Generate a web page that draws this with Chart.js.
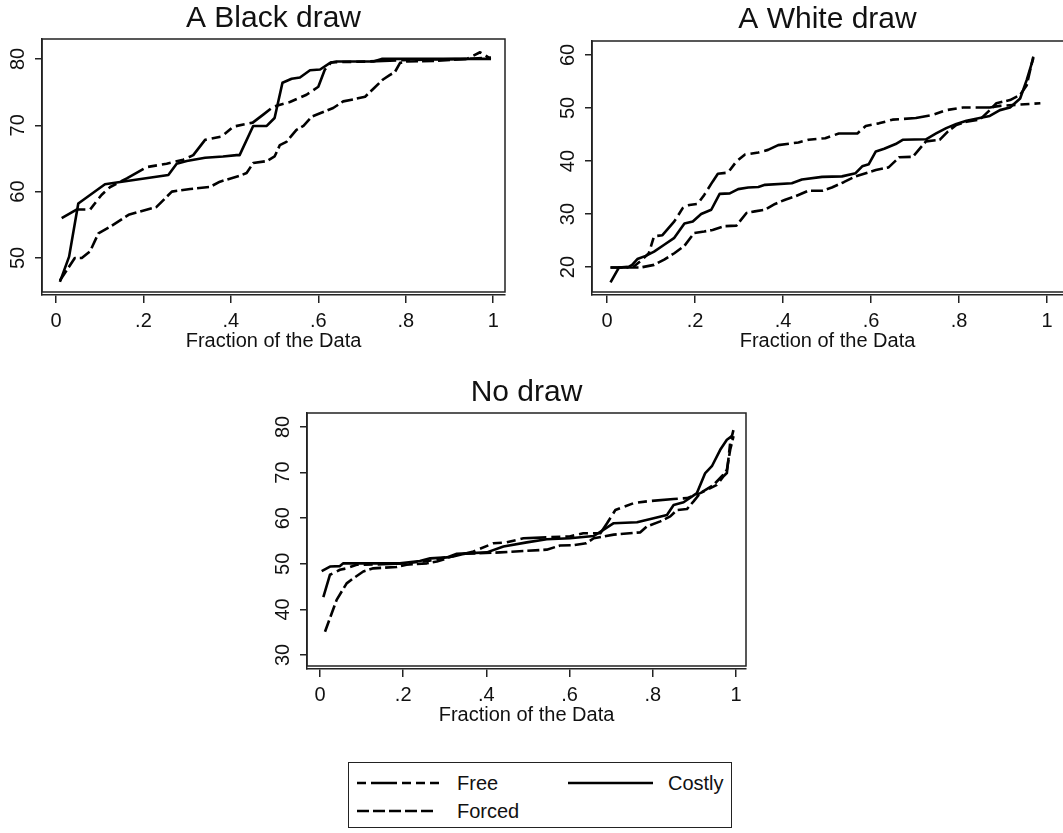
<!DOCTYPE html>
<html><head><meta charset="utf-8">
<script src="https://cdn.jsdelivr.net/npm/chart.js@4.4.1/dist/chart.umd.min.js"></script>
<style>
html,body{margin:0;padding:0;background:#fff;overflow:hidden;width:1063px;height:833px;position:relative}
.panel{position:absolute}
#legend{position:absolute;left:348px;top:762px;width:384px;height:66px;border:1.5px solid #222;box-sizing:border-box;font-family:"Liberation Sans",Arial,Helvetica,sans-serif;font-size:20px;color:#111}
#legend span{position:absolute;line-height:24px}
</style></head><body>
<div class="panel" style="left:0;top:0"><canvas id="c1" width="530" height="356"></canvas></div>
<div class="panel" style="left:530px;top:0"><canvas id="c2" width="533" height="356"></canvas></div>
<div class="panel" style="left:240px;top:370px"><canvas id="c3" width="530" height="360"></canvas></div>
<div id="legend">
  <svg width="384" height="66" style="position:absolute;left:-1.5px;top:-1.5px">
    <line x1="9" y1="21" x2="92" y2="21" stroke="#000" stroke-width="2.5" stroke-dasharray="9 5 26 5 9 5 9 5 9"/>
    <line x1="220" y1="21" x2="305" y2="21" stroke="#000" stroke-width="2.5"/>
    <line x1="9" y1="49" x2="89" y2="49" stroke="#000" stroke-width="2.5" stroke-dasharray="12 4"/>
  </svg>
  <span id="lgFree" style="left:108px;top:8px"></span>
  <span id="lgCostly" style="left:319px;top:8px"></span>
  <span id="lgForced" style="left:108px;top:36px"></span>
</div>
<script>
// ---------- data ----------
const seriesNames = ['Free', 'Costly', 'Forced'];
const panelTitles = ['A Black draw', 'A White draw', 'No draw'];
const xAxisTitle = 'Fraction of the Data';
const xTickValues = [0, 0.2, 0.4, 0.6, 0.8, 1];
const xTickLabels = ['0', '.2', '.4', '.6', '.8', '1'];
const blackYTicks = [50, 60, 70, 80];
const whiteYTicks = [20, 30, 40, 50, 60];
const noYTicks = [30, 40, 50, 60, 70, 80];

// A Black draw
const blackFreeX = [0.013,0.047,0.078,0.104,0.124,0.162,0.208,0.253,0.291,0.314,0.341,0.379,0.406,0.45,0.474,0.497,0.535,0.573,0.600,0.615,0.630,0.710,0.787,0.863,0.940,0.970,0.990];
const blackFreeY = [56.0,57.3,57.3,59.5,60.7,62.0,63.7,64.2,64.8,65.5,67.8,68.3,69.8,70.4,71.6,72.8,73.5,74.6,75.8,78.4,79.5,79.6,79.8,79.9,80.0,81.0,80.2];
const blackCostlyX = [0.009,0.030,0.051,0.112,0.131,0.257,0.276,0.299,0.341,0.382,0.413,0.420,0.451,0.482,0.500,0.518,0.539,0.558,0.581,0.604,0.627,0.642,0.726,0.745,0.995];
const blackCostlyY = [46.4,50.2,58.2,61.1,61.3,62.5,64.2,64.6,65.1,65.3,65.5,65.5,69.9,69.9,71.1,76.4,77.0,77.2,78.3,78.4,79.4,79.6,79.6,80.0,80.0];
const blackForcedX = [0.009,0.043,0.059,0.078,0.097,0.124,0.166,0.192,0.230,0.265,0.307,0.352,0.375,0.421,0.436,0.451,0.482,0.500,0.512,0.527,0.550,0.566,0.585,0.604,0.634,0.657,0.680,0.707,0.726,0.748,0.764,0.775,0.787,0.802,0.863,0.939,0.995];
const blackForcedY = [46.6,50.0,50.0,51.0,53.7,54.7,56.5,57.0,57.7,60.0,60.4,60.7,61.5,62.4,62.8,64.3,64.6,65.3,67.0,67.5,69.3,69.9,71.3,71.8,72.6,73.6,73.9,74.3,75.5,76.9,77.6,78.0,79.4,79.6,79.7,80.0,80.2];

// A White draw
const whiteFreeX = [0.008,0.027,0.061,0.080,0.095,0.107,0.126,0.153,0.172,0.187,0.206,0.221,0.240,0.252,0.275,0.294,0.313,0.344,0.366,0.389,0.435,0.458,0.496,0.527,0.569,0.588,0.618,0.649,0.702,0.740,0.771,0.809,0.870,0.893,0.931,0.985];
const whiteFreeY = [17.1,19.9,20.1,21.4,22.6,25.8,26.0,28.6,31.1,31.7,31.9,33.6,36.1,37.6,37.8,39.9,41.2,41.6,42.1,43.0,43.5,44.0,44.3,45.2,45.2,46.6,47.1,47.8,48.1,48.7,49.6,50.1,50.1,50.4,50.6,50.9];
const whiteCostlyX = [0.008,0.046,0.057,0.069,0.088,0.107,0.130,0.153,0.176,0.195,0.214,0.237,0.256,0.279,0.298,0.321,0.344,0.359,0.420,0.443,0.489,0.534,0.565,0.580,0.595,0.611,0.630,0.656,0.672,0.725,0.748,0.771,0.794,0.817,0.847,0.870,0.893,0.916,0.939,0.954,0.969];
const whiteCostlyY = [19.9,19.9,20.4,21.5,22.1,22.9,24.2,25.5,28.2,28.6,30.0,30.8,33.8,33.9,34.7,35.0,35.1,35.5,35.8,36.5,37.0,37.1,37.7,39.0,39.4,41.8,42.3,43.2,44.0,44.1,45.2,46.2,47.0,47.6,48.1,48.5,49.6,50.1,51.8,55.3,59.4];
const whiteForcedX = [0.008,0.076,0.107,0.130,0.153,0.176,0.198,0.221,0.240,0.267,0.294,0.317,0.336,0.359,0.382,0.405,0.427,0.458,0.489,0.511,0.538,0.565,0.588,0.611,0.640,0.664,0.695,0.725,0.756,0.775,0.794,0.817,0.847,0.870,0.885,0.916,0.939,0.954,0.962,0.969];
const whiteForcedY = [19.9,19.9,20.4,21.4,22.6,24.0,26.4,26.7,27.0,27.7,27.8,30.2,30.5,30.8,31.9,32.7,33.3,34.4,34.4,35.0,36.0,37.1,37.7,38.3,38.8,40.7,40.8,43.7,44.0,45.6,46.8,47.4,47.8,49.6,50.9,51.5,52.5,54.3,57.2,59.7];

// No draw
const noFreeX = [0.008,0.024,0.048,0.064,0.088,0.150,0.200,0.260,0.300,0.320,0.369,0.417,0.449,0.489,0.600,0.633,0.674,0.690,0.710,0.754,0.786,0.850,0.882,0.914,0.954,0.970,0.978,0.986,0.994];
const noFreeY = [42.7,47.6,48.7,49.0,49.8,49.9,50.1,50.6,51.4,51.6,52.7,54.5,54.7,55.6,56.0,56.7,56.7,58.9,61.8,63.3,63.7,64.2,64.4,65.5,67.3,69.2,69.9,76.5,79.4];
const noCostlyX = [0.004,0.024,0.048,0.056,0.192,0.240,0.265,0.305,0.329,0.401,0.441,0.497,0.545,0.601,0.658,0.682,0.706,0.762,0.802,0.834,0.850,0.874,0.906,0.926,0.942,0.962,0.978,0.990];
const noCostlyY = [48.4,49.4,49.5,50.1,50.1,50.6,51.2,51.4,52.2,52.5,53.8,54.7,55.4,55.6,56.1,57.5,58.9,59.1,60.0,60.7,62.9,63.5,65.5,69.9,71.4,75.0,77.2,78.0];
const noForcedX = [0.012,0.040,0.064,0.080,0.104,0.128,0.184,0.208,0.257,0.281,0.305,0.329,0.350,0.433,0.545,0.577,0.610,0.640,0.658,0.682,0.706,0.770,0.786,0.818,0.842,0.858,0.882,0.898,0.914,0.946,0.966,0.978,0.986,0.994];
const noForcedY = [35.1,42.1,45.7,46.8,48.3,49.0,49.3,49.8,50.1,50.5,51.2,52.0,52.2,52.5,53.1,54.0,54.1,54.5,55.6,56.0,56.4,56.9,58.2,59.3,60.4,61.8,62.0,63.7,65.5,67.3,69.2,70.6,75.0,78.0];

// ---------- rendering ----------
const FONT = '"Liberation Sans", Arial, Helvetica, sans-serif';
const INK = '#111';
const dashes = { Free: [26, 5, 9, 5, 9, 5, 9, 5], Costly: [], Forced: [12, 4] };

document.getElementById('lgFree').textContent = seriesNames[0];
document.getElementById('lgCostly').textContent = seriesNames[1];
document.getElementById('lgForced').textContent = seriesNames[2];

const boxPlugin = {
  id: 'stataBox',
  afterDraw(chart, args, opts) {
    const { ctx, chartArea: a } = chart;
    const b = a.bottom - 3;
    ctx.save();
    ctx.strokeStyle = '#222';
    ctx.lineWidth = 1.5;
    ctx.beginPath();
    ctx.moveTo(a.left, b); ctx.lineTo(a.left, a.top); ctx.lineTo(a.right, a.top);
    if (opts.right) { ctx.lineTo(a.right, b); } else { ctx.moveTo(a.right, b); }
    ctx.lineTo(a.left, b);
    ctx.stroke();
    ctx.restore();
  }
};

function pts(xs, ys) { return xs.map((x, i) => ({ x: x, y: ys[i] })); }

function makePanel(p) {
  const datasets = p.series.map((s, i) => ({
    label: seriesNames[i],
    data: pts(s[0], s[1]),
    borderColor: '#000',
    borderWidth: 2.6,
    borderDash: dashes[seriesNames[i]],
    borderJoinStyle: 'round',
    pointRadius: 0,
    fill: false,
    tension: 0
  }));
  new Chart(document.getElementById(p.id), {
    type: 'line',
    data: { datasets },
    plugins: [boxPlugin],
    options: {
      responsive: false,
      animation: false,
      devicePixelRatio: 1,
      layout: { padding: { left: 0, right: p.padRight, top: 0, bottom: 0 } },
      plugins: {
        legend: { display: false },
        tooltip: { enabled: false },
        stataBox: { right: p.rightBorder },
        title: {
          display: true, text: p.title, fullSize: false, color: INK,
          font: { family: FONT, size: 30, weight: 'normal', lineHeight: 1.2 },
          padding: p.titlePad
        }
      },
      scales: {
        x: {
          type: 'linear', min: p.xMin, max: p.xMax,
          afterFit: s => { s.height = p.xH; },
          afterBuildTicks: s => { s.ticks = xTickValues.map(v => ({ value: v })); },
          ticks: { callback: (v, i) => xTickLabels[i], color: INK, padding: 6, maxRotation: 0, minRotation: 0,
                   font: { family: FONT, size: 20 } },
          grid: { drawOnChartArea: false, drawTicks: true, tickLength: 8, color: '#222', lineWidth: 1.5 },
          border: { display: true, color: '#222', width: 1.5 },
          title: { display: true, text: xAxisTitle, color: INK, padding: { top: 0, bottom: 3 },
                   font: { family: FONT, size: 20, lineHeight: 1.2 } }
        },
        y: {
          type: 'linear', min: p.yMin, max: p.yMax,
          afterFit: s => { s.width = p.leftW; },
          afterBuildTicks: s => { s.ticks = p.yTicks.map(v => ({ value: v })); },
          ticks: { callback: (v) => String(v), color: INK, padding: 5, minRotation: 90, maxRotation: 90,
                   crossAlign: 'center', font: { family: FONT, size: 20 } },
          grid: { drawOnChartArea: false, drawTicks: true, tickLength: 7, color: '#222', lineWidth: 1.5 },
          border: { display: true, color: '#222', width: 1.5 }
        }
      }
    }
  });
}

makePanel({ id: 'c1', title: panelTitles[0], titlePad: { top: 0.5, bottom: 2.5 },
  leftW: 42, padRight: 25, xH: 61, rightBorder: true,
  xMin: -0.032, xMax: 1.027, yMin: 44.42, yMax: 83.0, yTicks: blackYTicks,
  series: [[blackFreeX, blackFreeY], [blackCostlyX, blackCostlyY], [blackForcedX, blackForcedY]] });

makePanel({ id: 'c2', title: panelTitles[1], titlePad: { top: 1.5, bottom: 3.5 },
  leftW: 62, padRight: 0, xH: 61, rightBorder: false,
  xMin: -0.0341, xMax: 1.0364, yMin: 14.72, yMax: 62.64, yTicks: whiteYTicks,
  series: [[whiteFreeX, whiteFreeY], [whiteCostlyX, whiteCostlyY], [whiteForcedX, whiteForcedY]] });

makePanel({ id: 'c3', title: panelTitles[2], titlePad: { top: 5, bottom: 2 },
  leftW: 67, padRight: 24, xH: 61, rightBorder: true,
  xMin: -0.03125, xMax: 1.024, yMin: 26.93, yMax: 83.07, yTicks: noYTicks,
  series: [[noFreeX, noFreeY], [noCostlyX, noCostlyY], [noForcedX, noForcedY]] });
</script>
</body></html>
